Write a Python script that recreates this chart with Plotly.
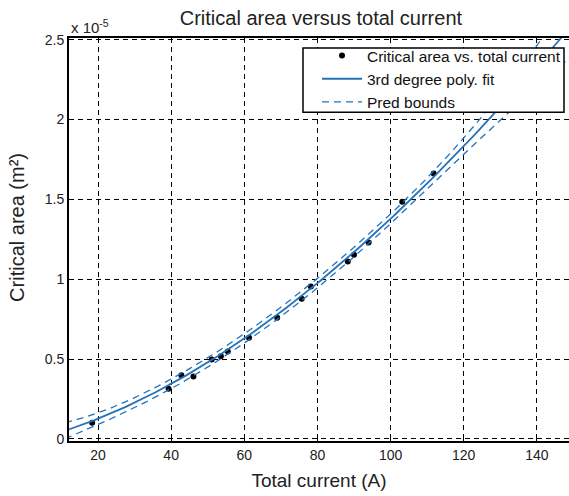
import numpy as np
import plotly.graph_objects as go

# Data (area in m^2)
total_current = [18.4, 39.3, 42.8, 46.1, 51.1, 53.6, 55.5, 61.3, 69.0, 75.7, 78.2, 88.3, 90.0, 94.0, 103.2, 111.8]
critical_area = [0.101e-5, 0.314e-5, 0.398e-5, 0.391e-5, 0.498e-5, 0.517e-5, 0.548e-5, 0.634e-5,
                 0.759e-5, 0.877e-5, 0.955e-5, 1.111e-5, 1.153e-5, 1.230e-5, 1.485e-5, 1.662e-5]
# Points (used to recover the cubic's coefficients)
fit_read_x = [12.1, 20, 40, 60, 80, 100, 120, 129, 146.4]
fit_read_y = [0.070e-5, 0.118e-5, 0.330e-5, 0.637e-5, 0.99e-5, 1.37e-5, 1.833e-5, 2.043e-5, 2.51e-5]
# half-width of the prediction band read at the left edge of the plot
band_read_x = 12.1
band_read_halfwidth = 0.048e-5
x_ticks = [20, 40, 60, 80, 100, 120, 140]
y_ticks = [0, 0.5, 1, 1.5, 2, 2.5]
y_tick_labels = ["0", "0.5", "1", "1.5", "2", "2.5"]
scale = 1e-5

x = np.array(total_current)
y = np.array(critical_area) / scale

deg = 3
# cubic recovered from the curve
beta_curve = np.polyfit(np.array(fit_read_x), np.array(fit_read_y) / scale, deg)

# prediction bounds: leverage from the data design, scale from the band
X = np.vander(x, deg + 1)
XtX_inv = np.linalg.inv(X.T @ X)
t_crit = 2.1788  # t(0.975, 12)


def leverage(xs):
    V = np.vander(np.atleast_1d(xs), deg + 1)
    return np.einsum("ij,jk,ik->i", V, XtX_inv, V)


s = (band_read_halfwidth / scale) / (t_crit * np.sqrt(1 + leverage(band_read_x)[0]))

xg = np.linspace(11, 150, 300)
yg = np.vander(xg, deg + 1) @ beta_curve
half = t_crit * s * np.sqrt(1 + leverage(xg))
upper = yg + half
lower = yg - half

blue = "#2473b9"
fig = go.Figure()
fig.add_trace(go.Scatter(x=x, y=y, mode="markers", name="Critical area vs. total current",
                         marker=dict(color="black", size=6)))
fig.add_trace(go.Scatter(x=xg, y=yg, mode="lines", name="3rd degree poly. fit",
                         line=dict(color=blue, width=1.8)))
fig.add_trace(go.Scatter(x=xg, y=upper, mode="lines", name="Pred bounds",
                         line=dict(color=blue, width=1.3, dash="7px,5px")))
fig.add_trace(go.Scatter(x=xg, y=lower, mode="lines", name="Pred bounds", showlegend=False,
                         line=dict(color=blue, width=1.3, dash="7px,5px")))

fam = "Liberation Sans, Arial, sans-serif"
fig.update_layout(
    width=569, height=496,
    margin=dict(l=69, r=0, t=38, b=55),
    paper_bgcolor="white", plot_bgcolor="white",
    font=dict(family=fam, size=14, color="#222"),
    title=dict(text="Critical area versus total current", x=0.564, xanchor="center",
               y=0.964, yanchor="middle", font=dict(size=20, color="#222")),
    showlegend=True,
    legend=dict(x=0.994, y=0.9975, xanchor="right", yanchor="top",
                bgcolor="rgba(0,0,0,0)", borderwidth=0,
                font=dict(size=15.5, color="#111"), tracegroupgap=0,
                itemwidth=40),
    xaxis=dict(range=[12.07, 148.8], tickvals=x_ticks, ticks="inside", ticklen=5,
               tickcolor="black", showline=True, linecolor="black", linewidth=2,
               mirror=True, showgrid=True, gridcolor="black", gridwidth=1,
               griddash="5px,4px", zeroline=False,
               title=dict(text="Total current (A)", font=dict(size=19), standoff=12)),
    yaxis=dict(range=[-0.013, 2.51], tickvals=y_ticks, ticktext=y_tick_labels,
               ticks="inside", ticklen=5, tickcolor="black", showline=True,
               linecolor="black", linewidth=2, showgrid=True, gridcolor="black",
               gridwidth=1, griddash="5px,4px", zeroline=False),
)
# legend frame (white box with black border, covering the plot behind it)
fig.add_shape(type="rect", xref="paper", yref="paper", x0=0.468, x1=0.99, y0=0.816, y1=0.975,
              fillcolor="white", line=dict(color="black", width=1.5), layer="above")
# y-axis label
fig.add_annotation(text="Critical area (m²)", xref="paper", yref="paper",
                   x=-0.103, y=0.53, xanchor="center", yanchor="middle", textangle=-90,
                   showarrow=False, font=dict(size=20, color="#222"))
# exponent label
fig.add_annotation(text="x 10<sup>-5</sup>", xref="paper", yref="paper", x=0.0, y=1.0,
                   xanchor="left", yanchor="bottom", showarrow=False,
                   font=dict(size=15, color="#222"), yshift=0)

fig.write_html("out.html")
